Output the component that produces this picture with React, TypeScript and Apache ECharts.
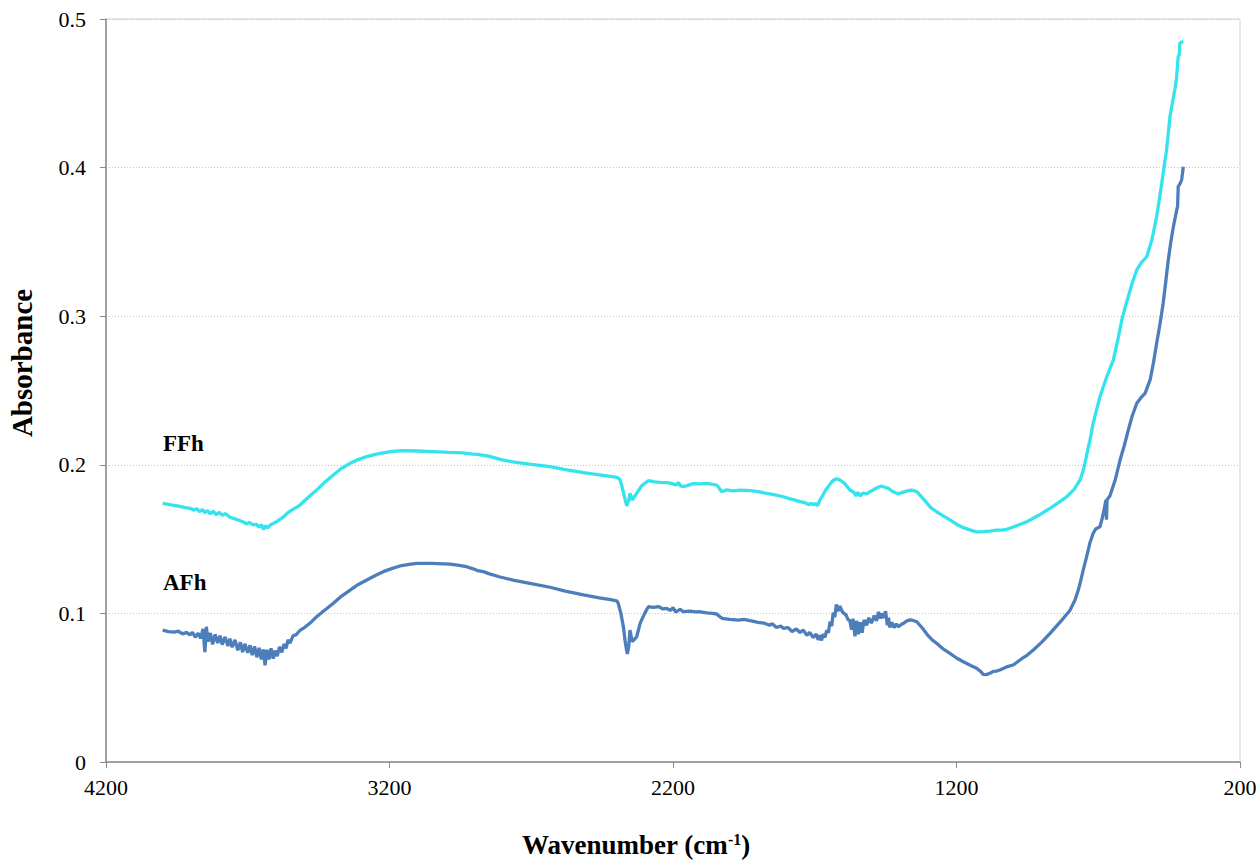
import React, { useEffect, useRef } from "react";
import * as echarts from "echarts";

// ---- Data ----
const xTickValues = [4200, 3200, 2200, 1200, 200];

const afhWavenumber = [
  4000, 3980, 3960, 3945, 3930, 3915, 3904, 3895, 3885, 3875, 3866, 3858, 3851, 3846, 3840, 3832, 3824, 3815, 3806, 3798,
  3790, 3780, 3770, 3763, 3755, 3745, 3735, 3726, 3718, 3710, 3700, 3692, 3684, 3676, 3668, 3660, 3652, 3645, 3639, 3632,
  3625, 3618, 3610, 3604, 3596, 3588, 3580, 3572, 3565, 3558, 3551, 3540, 3530, 3516, 3500, 3480, 3457, 3430, 3398, 3370,
  3339, 3310, 3280, 3250, 3222, 3190, 3163, 3130, 3104, 3050, 2987, 2960, 2928, 2905, 2890, 2869, 2850, 2810, 2760, 2700,
  2634, 2580, 2516, 2460, 2420, 2399, 2393, 2384, 2375, 2368, 2361, 2356, 2352, 2348, 2344, 2336, 2328, 2316, 2300, 2287,
  2270, 2250, 2235, 2222, 2210, 2200, 2190, 2175, 2164, 2140, 2120, 2105, 2080, 2060, 2046, 2036, 2027, 2000, 1970, 1950,
  1928, 1900, 1880, 1860, 1850, 1835, 1820, 1811, 1795, 1780, 1765, 1752, 1740, 1728, 1718, 1705, 1695, 1688, 1682, 1676,
  1670, 1664, 1658, 1652, 1646, 1640, 1635, 1629, 1624, 1618, 1611, 1604, 1597, 1590, 1583, 1576, 1570, 1565, 1558, 1552,
  1546, 1540, 1533, 1526, 1517, 1510, 1500, 1490, 1482, 1475, 1468, 1464, 1458, 1450, 1444, 1440, 1435, 1428, 1420, 1412,
  1405, 1395, 1385, 1375, 1365, 1358, 1340, 1320, 1300, 1285, 1270, 1250, 1223, 1200, 1176, 1150, 1129, 1115, 1106, 1095,
  1082, 1070, 1060, 1047, 1020, 1000, 970, 950, 929, 900, 870, 845, 823, 800, 782, 770, 764, 752, 741, 730,
  718, 708, 694, 686, 678, 673, 671, 669, 659, 640, 623, 608, 594, 580, 564, 550, 535, 517, 505, 494,
  482, 471, 462, 453, 444, 435, 429, 423, 420, 418, 412, 406, 403, 400,
];
const afhAbsorbance = [
  0.0888, 0.0878, 0.0874, 0.0880, 0.0862, 0.0872, 0.0855, 0.0872, 0.084, 0.0866, 0.0832, 0.0895, 0.074, 0.091, 0.081, 0.0868, 0.0792, 0.0858, 0.08, 0.085,
  0.079, 0.0842, 0.078, 0.083, 0.0772, 0.0822, 0.0752, 0.0805, 0.074, 0.0795, 0.0735, 0.0785, 0.072, 0.0778, 0.0705, 0.0768, 0.069, 0.0758, 0.065, 0.0755,
  0.069, 0.0765, 0.0695, 0.075, 0.0712, 0.0775, 0.0738, 0.0795, 0.0765, 0.0822, 0.08, 0.085, 0.0855, 0.0885, 0.0905, 0.0935, 0.0978, 0.102, 0.1068, 0.1115,
  0.1157, 0.1195, 0.1225, 0.1255, 0.1281, 0.1303, 0.1319, 0.133, 0.1337, 0.1336, 0.1332, 0.1325, 0.1314, 0.13, 0.1288, 0.1281, 0.1268, 0.1245, 0.1222, 0.12,
  0.1176, 0.115, 0.1124, 0.1105, 0.1092, 0.1085, 0.1068, 0.1, 0.091, 0.08, 0.0727, 0.078, 0.0888, 0.085, 0.081, 0.0825, 0.0843, 0.0933, 0.1, 0.1045,
  0.104, 0.1045, 0.103, 0.1034, 0.102, 0.1038, 0.1008, 0.1028, 0.1012, 0.1015, 0.101, 0.1011, 0.1003, 0.1, 0.0996, 0.098, 0.0967, 0.096, 0.0955, 0.096,
  0.0951, 0.094, 0.0935, 0.092, 0.093, 0.0905, 0.0915, 0.09, 0.0905, 0.0878, 0.0895, 0.0872, 0.0888, 0.0852, 0.0872, 0.0838, 0.0862, 0.0822, 0.0852, 0.0818,
  0.0862, 0.0838, 0.0885, 0.087, 0.0944, 0.0915, 0.1005, 0.0975, 0.106, 0.1015, 0.105, 0.1015, 0.1, 0.099, 0.096, 0.095, 0.089, 0.0965, 0.0845, 0.095,
  0.086, 0.094, 0.087, 0.0955, 0.092, 0.097, 0.0935, 0.0985, 0.095, 0.101, 0.0965, 0.1, 0.097, 0.1015, 0.092, 0.097, 0.0905, 0.094, 0.0905, 0.093,
  0.091, 0.0925, 0.0935, 0.095, 0.0955, 0.0956, 0.0944, 0.09, 0.085, 0.082, 0.0799, 0.0765, 0.0731, 0.07, 0.0675, 0.065, 0.0631, 0.061, 0.059, 0.0588,
  0.0597, 0.061, 0.0612, 0.0619, 0.0642, 0.0653, 0.0695, 0.072, 0.0754, 0.0805, 0.0866, 0.092, 0.0967, 0.102, 0.109, 0.116, 0.1203, 0.13, 0.1382, 0.147,
  0.1539, 0.157, 0.1583, 0.164, 0.171, 0.1763, 0.163, 0.1765, 0.179, 0.19, 0.2032, 0.213, 0.2234, 0.233, 0.2414, 0.245, 0.2481, 0.2571, 0.269, 0.2818,
  0.295, 0.3087, 0.323, 0.3378, 0.35, 0.3602, 0.366, 0.3715, 0.374, 0.3872, 0.389, 0.3916, 0.396, 0.4006,
];

const ffhWavenumber = [
  4000, 3970, 3940, 3920, 3904, 3890, 3880, 3870, 3860, 3851, 3842, 3832, 3822, 3812, 3800, 3790, 3780, 3763, 3750, 3740,
  3727, 3715, 3705, 3695, 3681, 3670, 3660, 3652, 3645, 3638, 3630, 3621, 3610, 3598, 3585, 3575, 3560, 3545, 3530, 3516,
  3490, 3457, 3430, 3398, 3370, 3339, 3310, 3280, 3250, 3222, 3190, 3151, 3100, 3045, 2990, 2940, 2928, 2905, 2890, 2869,
  2850, 2810, 2760, 2700, 2634, 2580, 2516, 2460, 2420, 2399, 2388, 2381, 2372, 2363, 2356, 2352, 2348, 2344, 2336, 2328,
  2310, 2287, 2265, 2245, 2222, 2205, 2190, 2180, 2175, 2164, 2150, 2130, 2105, 2080, 2060, 2046, 2036, 2028, 2010, 1990,
  1960, 1928, 1900, 1870, 1840, 1811, 1790, 1770, 1752, 1735, 1720, 1710, 1705, 1698, 1690, 1682, 1670, 1660, 1652, 1640,
  1629, 1620, 1611, 1595, 1576, 1562, 1555, 1548, 1540, 1530, 1517, 1505, 1490, 1475, 1464, 1455, 1441, 1425, 1405, 1390,
  1370, 1358, 1340, 1310, 1290, 1270, 1250, 1223, 1200, 1176, 1150, 1129, 1105, 1082, 1060, 1040, 1023, 990, 952, 910,
  870, 840, 811, 785, 764, 755, 747, 738, 729, 718, 706, 694, 682, 670, 658, 647, 632, 617, 605, 594,
  580, 564, 548, 529, 511, 494, 485, 476, 468, 459, 447, 438, 429, 424, 418, 414, 412, 406, 400,
];
const ffhAbsorbance = [
  0.1741, 0.173, 0.172, 0.1712, 0.1707, 0.1695, 0.1705, 0.1685, 0.1698, 0.1678, 0.1692, 0.167, 0.1688, 0.1665, 0.168, 0.166, 0.1672, 0.1647, 0.164, 0.1632,
  0.1624, 0.1615, 0.1602, 0.1612, 0.1595, 0.16, 0.158, 0.1598, 0.1565, 0.159, 0.1575, 0.1595, 0.1605, 0.1618, 0.1635, 0.1647, 0.1675, 0.1695, 0.1712, 0.1729,
  0.1775, 0.183, 0.188, 0.1931, 0.1975, 0.201, 0.2035, 0.2055, 0.207, 0.2081, 0.209, 0.2095, 0.2093, 0.2088, 0.2083, 0.208, 0.2077, 0.2072, 0.207, 0.2064,
  0.2058, 0.2036, 0.2018, 0.2003, 0.1987, 0.1968, 0.1947, 0.1932, 0.1922, 0.1916, 0.1905, 0.1864, 0.179, 0.1723, 0.176, 0.1808, 0.179, 0.1763, 0.1785, 0.1808,
  0.186, 0.1893, 0.1885, 0.1882, 0.188, 0.1875, 0.1865, 0.188, 0.186, 0.1853, 0.186, 0.1873, 0.1871, 0.1875, 0.1868, 0.1864, 0.184, 0.1819, 0.1832, 0.1825,
  0.183, 0.1826, 0.182, 0.1808, 0.1798, 0.1785, 0.1772, 0.1762, 0.1752, 0.1745, 0.1732, 0.1742, 0.1729, 0.174, 0.1725, 0.1763, 0.18, 0.1835, 0.1853, 0.1885,
  0.1902, 0.1905, 0.1898, 0.1875, 0.183, 0.1815, 0.179, 0.1815, 0.179, 0.181, 0.1805, 0.1819, 0.1835, 0.185, 0.1857, 0.185, 0.1842, 0.182, 0.1803, 0.1815,
  0.1826, 0.183, 0.1819, 0.1755, 0.171, 0.1684, 0.166, 0.1629, 0.16, 0.1577, 0.156, 0.1548, 0.155, 0.1554, 0.156, 0.156, 0.1566, 0.1588, 0.1617, 0.166,
  0.1707, 0.1745, 0.1785, 0.1835, 0.1898, 0.195, 0.201, 0.209, 0.2167, 0.2279, 0.237, 0.2458, 0.2525, 0.2593, 0.265, 0.2705, 0.283, 0.2974, 0.306, 0.3131,
  0.3225, 0.3311, 0.336, 0.34, 0.3513, 0.367, 0.378, 0.3894, 0.4, 0.4118, 0.4343, 0.444, 0.4534, 0.46, 0.4746, 0.476, 0.4837, 0.4845, 0.4847,
];

const seriesNames = ["FFh", "AFh"];
const yTitle = "Absorbance";

const SERIF = '"Liberation Serif", "Times New Roman", "DejaVu Serif", serif';

function pairs(xs: number[], ys: number[]) {
  return xs.map((x, i) => [x, ys[i]]);
}

export default function App() {
  const ref = useRef<HTMLDivElement>(null);

  useEffect(() => {
    if (!ref.current) return;
    const chart = echarts.init(ref.current, undefined, { renderer: "svg" });
    const axisGray = "#8a8a8a";
    chart.setOption({
      animation: false,
      backgroundColor: "#ffffff",
      grid: {
        left: 106,
        right: 20,
        top: 19,
        bottom: 100,
        show: true,
        borderColor: "#cfcfcf",
        borderWidth: 1,
        containLabel: false,
        outerBoundsMode: "none",
      },
      xAxis: {
        type: "value",
        min: 200,
        max: 4200,
        inverse: true,
        axisLine: { show: true, onZero: false, lineStyle: { color: axisGray, width: 1.5 } },
        axisTick: { show: true, inside: false, length: 6, customValues: xTickValues, lineStyle: { color: axisGray, width: 1 } },
        axisLabel: {
          show: true,
          customValues: xTickValues,
          margin: 14,
          color: "#000",
          fontFamily: SERIF,
          fontSize: 22,
          formatter: (v: number) => String(v),
        },
        splitLine: { show: false },
      },
      yAxis: {
        type: "value",
        min: 0,
        max: 0.5,
        interval: 0.1,
        axisLine: { show: true, onZero: false, lineStyle: { color: axisGray, width: 1.5 } },
        axisTick: { show: true, inside: false, length: 6, lineStyle: { color: axisGray, width: 1 } },
        axisLabel: {
          margin: 20,
          color: "#000",
          fontFamily: SERIF,
          fontSize: 22,
          formatter: (v: number) => String(Math.round(v * 10) / 10),
        },
        splitLine: { show: true, lineStyle: { color: "#c4c4c4", width: 1, type: [1, 2] } },
      },
      series: [
        {
          name: seriesNames[0],
          type: "line",
          data: pairs(ffhWavenumber, ffhAbsorbance),
          showSymbol: false,
          symbol: "none",
          lineStyle: { color: "#33E3EE", width: 3.3 },
          z: 3,
        },
        {
          name: seriesNames[1],
          type: "line",
          data: pairs(afhWavenumber, afhAbsorbance),
          showSymbol: false,
          symbol: "none",
          lineStyle: { color: "#4D7EBC", width: 3.3 },
          z: 4,
        },
      ],
      graphic: [
        {
          type: "text",
          x: 22,
          y: 363,
          rotation: Math.PI / 2,
          style: {
            text: yTitle,
            fontFamily: SERIF,
            fontWeight: "bold",
            fontSize: 29,
            fill: "#000",
            align: "center",
            verticalAlign: "middle",
          },
        },
        {
          type: "text",
          x: 636,
          y: 845,
          style: {
            text: "{b|Wavenumber (cm}{s|-1}{b|)}",
            fill: "#000",
            align: "center",
            verticalAlign: "middle",
            rich: {
              b: { fontFamily: SERIF, fontWeight: "bold", fontSize: 27, fill: "#000" },
              s: { fontFamily: SERIF, fontWeight: "bold", fontSize: 16, fill: "#000", verticalAlign: "top", padding: [0, 0, 10, 0] },
            },
          },
        },
        {
          type: "text",
          x: 163,
          y: 443,
          style: {
            text: seriesNames[0],
            fontFamily: SERIF,
            fontWeight: "bold",
            fontSize: 23,
            fill: "#000",
            align: "left",
            verticalAlign: "middle",
          },
        },
        {
          type: "text",
          x: 163,
          y: 582,
          style: {
            text: seriesNames[1],
            fontFamily: SERIF,
            fontWeight: "bold",
            fontSize: 23,
            fill: "#000",
            align: "left",
            verticalAlign: "middle",
          },
        },
      ],
    });
    return () => chart.dispose();
  }, []);

  return (
    <div
      ref={ref}
      style={{ position: "fixed", left: 0, top: 0, width: 1260, height: 862, background: "#fff" }}
    />
  );
}
